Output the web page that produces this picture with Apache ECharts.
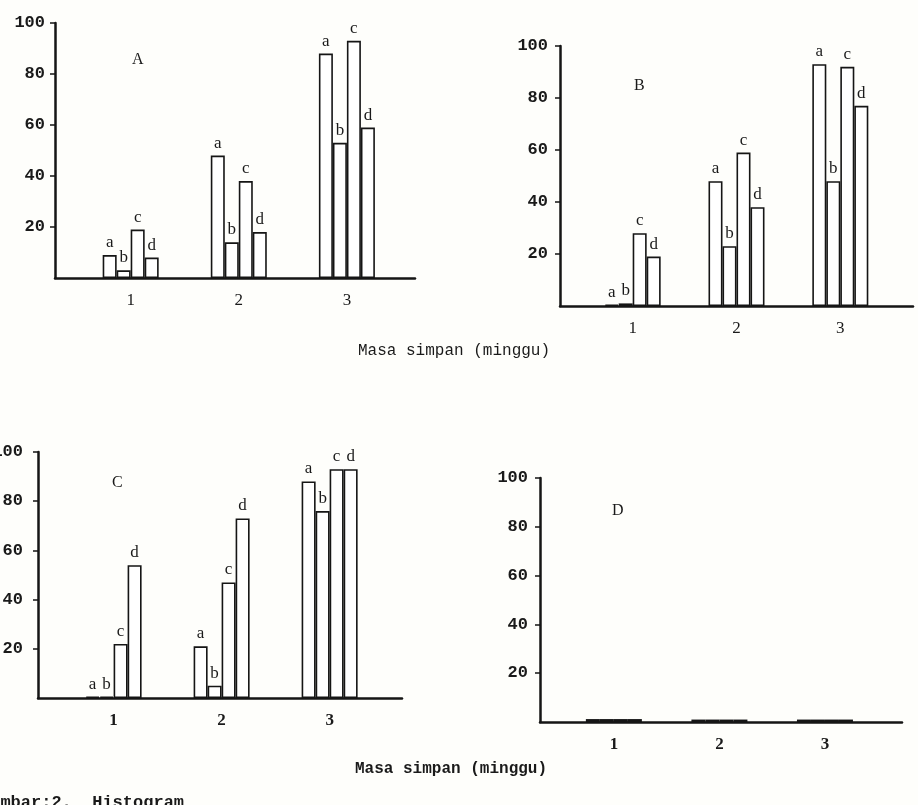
<!DOCTYPE html>
<html>
<head>
<meta charset="utf-8">
<script src="https://cdn.jsdelivr.net/npm/echarts@6.0.0/dist/echarts.min.js"></script>
<style>
  html, body { margin: 0; padding: 0; background: #fefefb; }
  #main { width: 918px; height: 805px; }
</style>
</head>
<body>
<div id="main"></div>
<script>
var myChart = echarts.init(document.getElementById('main'));

// weeks of storage (minggu)
var weeks = [1, 2, 3];
var barNames = ['a', 'b', 'c', 'd'];
var yTicks = [20, 40, 60, 80, 100];

// panel A
var A_a = [9, 48, 88];
var A_b = [3, 14, 53];
var A_c = [19, 38, 93];
var A_d = [8, 18, 59];
// panel B
var B_a = [0.5, 48, 93];
var B_b = [1, 23, 48];
var B_c = [28, 59, 92];
var B_d = [19, 38, 77];
// panel C
var C_a = [0.5, 21, 88];
var C_b = [0.5, 5, 76];
var C_c = [22, 47, 93];
var C_d = [54, 73, 93];
// panel D
var D_a = [1.2, 1, 1];
var D_b = [1.2, 1, 1];
var D_c = [1.2, 1, 1];
var D_d = [1.2, 1, 1];

var panels = [
    {name: 'A', data: [A_a, A_b, A_c, A_d], grid: {left: 55, top: 23, width: 360, height: 255}, max: 3.63, letter: [132, 52], labels: true, margin: 10},
    {name: 'B', data: [B_a, B_b, B_c, B_d], grid: {left: 560, top: 46, width: 353, height: 260}, max: 3.70, letter: [634, 78], labels: true, margin: 12},
    {name: 'C', data: [C_a, C_b, C_c, C_d], grid: {left: 38, top: 452, width: 364, height: 246}, max: 3.67, letter: [112, 475], labels: true, margin: 15},
    {name: 'D', data: [D_a, D_b, D_c, D_d], grid: {left: 540, top: 478, width: 362, height: 244}, max: 3.73, letter: [612, 503], labels: false, margin: 12}
];

var mono = '"Liberation Mono", "DejaVu Sans Mono", monospace';
var serif = '"Liberation Serif", "DejaVu Serif", serif';

var option = {
    backgroundColor: '#fefefb',
    animation: false,
    grid: [],
    xAxis: [],
    yAxis: [],
    series: [],
    graphic: []
};

panels.forEach(function (p, i) {
    var g = p.grid;
    option.grid.push({left: g.left, top: g.top, width: g.width, height: g.height, outerBoundsMode: 'none', containLabel: false});
    option.xAxis.push({
        type: 'value',
        gridIndex: i,
        min: 0.3,
        max: p.max,
        splitLine: {show: false},
        axisTick: {show: false},
        axisLine: {show: true, lineStyle: {color: '#151515', width: 2.5}},
        axisLabel: {
            customValues: weeks,
            margin: 14,
            fontFamily: serif,
            fontSize: 17,
            fontWeight: i >= 2 ? 'bold' : 'normal',
            color: '#1a1a1a'
        }
    });
    option.yAxis.push({
        type: 'value',
        gridIndex: i,
        min: 0,
        max: 100,
        interval: 20,
        splitLine: {show: false},
        axisLine: {show: true, lineStyle: {color: '#151515', width: 2.5}},
        axisTick: {show: true, customValues: yTicks, length: 5, lineStyle: {color: '#151515', width: 1.5}},
        axisLabel: {
            customValues: yTicks,
            margin: p.margin,
            fontFamily: mono,
            fontSize: 17,
            fontWeight: 'bold',
            color: '#1a1a1a'
        }
    });
    p.data.forEach(function (vals, j) {
        option.series.push({
            type: 'bar',
            name: p.name + barNames[j],
            xAxisIndex: i,
            yAxisIndex: i,
            barWidth: 14,
            barGap: '0%',
            data: weeks.map(function (w, k) { return [w, vals[k]]; }),
            itemStyle: {
                color: p.labels ? '#ffffff' : '#222222',
                borderColor: '#151515',
                borderWidth: p.labels ? 1.6 : 2
            },
            label: {
                show: p.labels,
                position: 'top',
                distance: 4,
                formatter: barNames[j],
                fontFamily: serif,
                fontSize: 17,
                color: '#1a1a1a'
            }
        });
    });
    option.graphic.push({
        type: 'text',
        left: p.letter[0],
        top: p.letter[1],
        style: {text: p.name, font: '16px ' + serif, fill: '#1a1a1a'}
    });
});

option.graphic.push(
    {
        type: 'text',
        left: 358,
        top: 343,
        style: {text: 'Masa simpan (minggu)', font: '16px ' + mono, fill: '#1a1a1a'}
    },
    {
        type: 'text',
        left: 355,
        top: 761,
        style: {text: 'Masa simpan (minggu)', font: 'bold 16px ' + mono, fill: '#1a1a1a'}
    },
    {
        type: 'text',
        left: -20,
        top: 794,
        style: {text: 'Gambar:2.  Histogram', font: 'bold 17px ' + mono, fill: '#1a1a1a'}
    }
);

myChart.setOption(option);
</script>
</body>
</html>
